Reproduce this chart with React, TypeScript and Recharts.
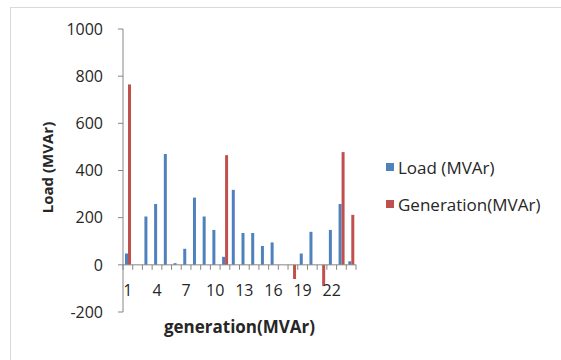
import React from 'react';
import { BarChart, Bar, XAxis, YAxis, ReferenceLine } from 'recharts';

// Bus numbers along the horizontal axis
const categories = ['1','2','3','4','5','6','7','8','9','10','11','12','13','14','15','16','17','18','19','20','21','22','23','24'];
// Reactive load per bus (MVAr)
const loadMVAr = [48, 0, 205, 258, 470, 7, 68, 285, 205, 148, 34, 318, 135, 135, 80, 95, 0, 0, 48, 140, 0, 148, 258, 15];
// Reactive generation per bus (MVAr)
const generationMVAr = [765, 0, 0, 0, 0, 0, 0, 0, 0, 0, 465, 0, 0, 0, 0, 0, 0, -60, 0, 0, -90, 0, 478, 212];
const yTicks = [-200, 0, 200, 400, 600, 800, 1000];

const series = [
  { key: 'load', name: 'Load (MVAr)', color: '#4F81BD' },
  { key: 'generation', name: 'Generation(MVAr)', color: '#C0504D' },
];

const data = categories.map((c, i) => ({
  name: c,
  load: loadMVAr[i],
  generation: generationMVAr[i],
}));

const W = 561;
const H = 360;
const margin = { top: 29, right: 205, bottom: 18, left: 37 };
const Y_AXIS_W = 86;
const X_AXIS_H = 30;
const plotLeft = margin.left + Y_AXIS_W;
const plotW = W - plotLeft - margin.right;
const plotTop = margin.top;
const plotH = H - margin.top - margin.bottom - X_AXIS_H;
const yMin = -200;
const yMax = 1000;
const zeroY = plotTop + (plotH * yMax) / (yMax - yMin);
const band = plotW / categories.length;

const FONT = '"Open Sans", sans-serif';
const AXIS_COLOR = '#868686';
const TEXT_COLOR = '#262626';

// Category ticks sit on the zero line: marks between categories, labels every third bus
const CategoryTick = (props: any) => {
  const { x, index, payload } = props;
  const left = x - band / 2;
  const right = x + band / 2;
  return (
    <g>
      <line x1={left} x2={left} y1={zeroY} y2={zeroY + 5} stroke={AXIS_COLOR} strokeWidth={1} />
      {index === categories.length - 1 && (
        <line x1={right} x2={right} y1={zeroY} y2={zeroY + 5} stroke={AXIS_COLOR} strokeWidth={1} />
      )}
      {index % 3 === 0 && (
        <text x={x} y={zeroY + 31} textAnchor="middle" fontFamily={FONT} fontSize={16} fill={TEXT_COLOR}>
          {payload.value}
        </text>
      )}
    </g>
  );
};

const YTitle = (props: any) => {
  const { viewBox } = props;
  const cx = viewBox.x + 10;
  const cy = viewBox.y + viewBox.height / 2 - 3;
  return (
    <text
      x={cx}
      y={cy}
      transform={`rotate(-90 ${cx} ${cy})`}
      textAnchor="middle"
      dominantBaseline="central"
      fontFamily={FONT}
      fontWeight="bold"
      fontSize={15}
      fill={TEXT_COLOR}
    >
      Load (MVAr)
    </text>
  );
};

const XTitle = (props: any) => {
  const { viewBox } = props;
  return (
    <text
      x={viewBox.x + viewBox.width / 2}
      y={viewBox.y + 21}
      textAnchor="middle"
      fontFamily={FONT}
      fontWeight="bold"
      fontSize={17}
      fill={TEXT_COLOR}
    >
      generation(MVAr)
    </text>
  );
};

export default function App() {
  return (
    <div style={{ position: 'absolute', left: 0, top: 0, width: W, height: H, background: '#fff', overflow: 'hidden' }}>
      <div
        style={{
          position: 'absolute',
          left: 10,
          top: 7,
          width: W,
          height: H,
          border: '1px solid #D9D9D9',
          boxSizing: 'border-box',
        }}
      />
      <div style={{ position: 'absolute', left: 0, top: 0 }}>
        <BarChart width={W} height={H} data={data} margin={margin} barGap={0}>
          <XAxis
            dataKey="name"
            height={X_AXIS_H}
            axisLine={false}
            tickLine={false}
            interval={0}
            tick={<CategoryTick />}
            label={<XTitle />}
          />
          <YAxis
            width={Y_AXIS_W}
            domain={[yMin, yMax]}
            ticks={yTicks}
            interval={0}
            axisLine={{ stroke: AXIS_COLOR }}
            tickLine={{ stroke: AXIS_COLOR }}
            tickSize={5}
            tickMargin={15}
            tick={{ fontFamily: FONT, fontSize: 16, fill: TEXT_COLOR }}
            label={<YTitle />}
          />
          {series.map((s) => (
            <Bar key={s.key} dataKey={s.key} name={s.name} fill={s.color} barSize={3} isAnimationActive={false} />
          ))}
          <ReferenceLine y={0} stroke={AXIS_COLOR} strokeWidth={1} />
        </BarChart>
      </div>
      <div style={{ position: 'absolute', left: 386, top: 155, fontFamily: FONT, fontSize: 17, color: TEXT_COLOR }}>
        {series.map((s) => (
          <div key={s.key} style={{ display: 'flex', alignItems: 'center', height: 24, marginBottom: 13 }}>
            <span style={{ display: 'inline-block', width: 8, height: 8, background: s.color, marginRight: 4 }} />
            <span style={{ whiteSpace: 'nowrap' }}>{s.name}</span>
          </div>
        ))}
      </div>
    </div>
  );
}
